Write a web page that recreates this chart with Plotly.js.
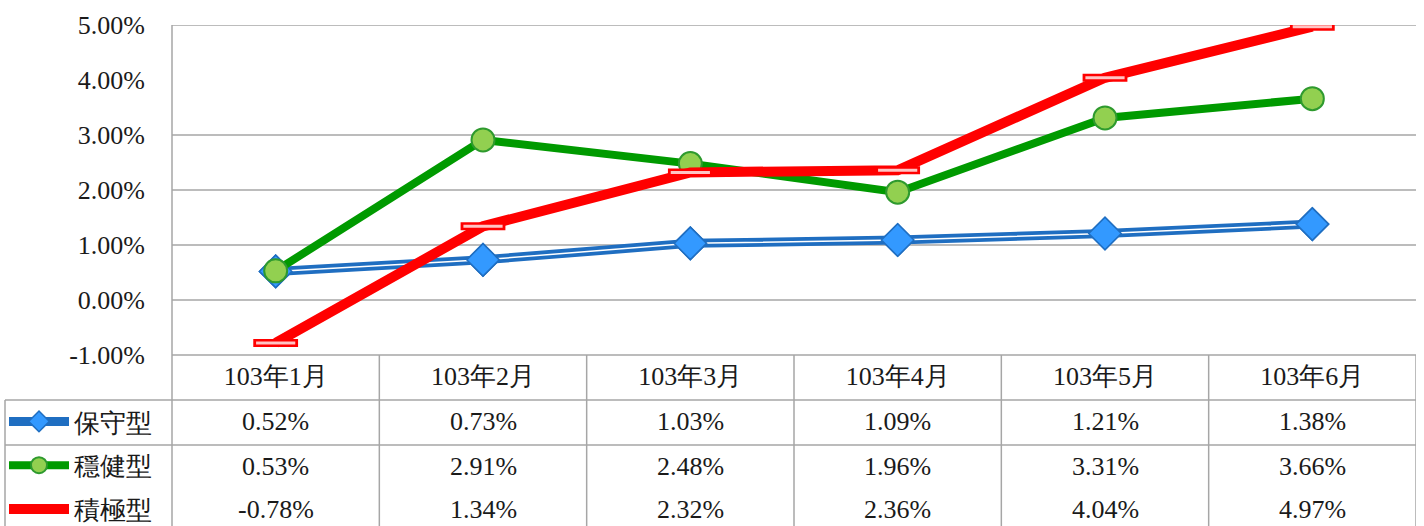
<!DOCTYPE html>
<html><head><meta charset="utf-8">
<script src="https://cdn.plot.ly/plotly-3.0.1.min.js"></script>
<style>html,body{margin:0;padding:0;background:#fff}</style>
</head><body>
<div id="chart" style="width:1424px;height:526px"></div>
<script>
// ---- data ----
const months = ['103年1月','103年2月','103年3月','103年4月','103年5月','103年6月'];
const conservative = [0.52, 0.73, 1.03, 1.09, 1.21, 1.38];   // 保守型
const balanced     = [0.53, 2.91, 2.48, 1.96, 3.31, 3.66];   // 穩健型
const aggressive   = [-0.78, 1.34, 2.32, 2.36, 4.04, 4.97];  // 積極型
const seriesNames  = ['保守型','穩健型','積極型'];
const yTickVals    = [-1, 0, 1, 2, 3, 4, 5];
const gridVals     = [5, 3, 2, 1, 0];

// ---- geometry helpers ----
const W = 1424, H = 526;
const L = 172, R = 1416, T = 25, B = 355;
const plotW = R - L, plotH = B - T;
const py = p => (B - p) / plotH;     // pixel y -> paper y
const px = p => (p - L) / plotW;     // pixel x -> paper x

const FONT = 'Liberation Serif, DejaVu Serif, serif';
const TXT = '#1a1a1a';
const GRID = '#a6a6a6';
const FS = 26;

const fmt = v => v.toFixed(2) + '%';

const traces = [
  {x: months, y: conservative, name: seriesNames[0], legendgroup: 'g1', type: 'scatter', mode: 'lines+markers',
   line: {color: '#1f6ec1', width: 9},
   marker: {symbol: 'diamond', size: 25, color: '#3399ff', line: {color: '#1f6ec1', width: 1.5}}},
  {x: months, y: conservative, legendgroup: 'g1', type: 'scatter', mode: 'lines', showlegend: false, hoverinfo: 'skip',
   line: {color: '#ffffff', width: 1.5}},
  {x: months, y: conservative, legendgroup: 'g1', type: 'scatter', mode: 'markers', showlegend: false, hoverinfo: 'skip',
   marker: {symbol: 'diamond', size: 25, color: '#3399ff', line: {color: '#1f6ec1', width: 1.5}}},
  {x: months, y: balanced, name: seriesNames[1], legendgroup: 'g2', type: 'scatter', mode: 'lines+markers',
   line: {color: '#009a00', width: 8},
   marker: {symbol: 'circle', size: 23, color: '#92d050', line: {color: '#2e9a2e', width: 2}}},
  {x: months, y: aggressive, name: seriesNames[2], legendgroup: 'g3', type: 'scatter', mode: 'lines+markers',
   line: {color: '#ff0000', width: 10},
   marker: {symbol: 'line-ew', size: 32, color: '#ff0000', line: {color: '#ff0000', width: 8}}},
  {x: months, y: aggressive, legendgroup: 'g3', type: 'scatter', mode: 'markers', showlegend: false, hoverinfo: 'skip',
   marker: {symbol: 'line-ew', size: 28, color: '#ffc4c4', line: {color: '#ffc4c4', width: 3}}}
];

// ---- table / grid lines ----
const shapes = [];
const ln = {color: GRID, width: 1.5};
gridVals.forEach(v => shapes.push({type: 'line', xref: 'paper', yref: 'y', x0: 0, x1: 1, y0: v, y1: v, line: ln, layer: 'below'}));
// left axis line through table
shapes.push({type: 'line', xref: 'paper', yref: 'paper', x0: 0, x1: 0, y0: 1, y1: py(H + 5), line: ln});
// table top (bottom of plot)
shapes.push({type: 'line', xref: 'paper', yref: 'paper', x0: 0, x1: 1, y0: 0, y1: 0, line: ln});
// column separators
for (let i = 0; i < months.length; i++) {
  shapes.push({type: 'line', xref: 'x', yref: 'paper', x0: i + 0.5, x1: i + 0.5, y0: 0, y1: py(H + 5), line: ln});
}
// row lines spanning label column
[400, 445].forEach(p => shapes.push({type: 'line', xref: 'paper', yref: 'paper', x0: px(5), x1: 1, y0: py(p), y1: py(p), line: ln}));
// left border of label column
shapes.push({type: 'line', xref: 'paper', yref: 'paper', x0: px(5), x1: px(5), y0: py(400), y1: py(H + 5), line: ln});

// ---- table values ----
const annotations = [];
const rows = [conservative, balanced, aggressive];
const rowY = [421, 466, 509];
rows.forEach((arr, r) => arr.forEach((v, i) => annotations.push({
  x: months[i], xref: 'x', y: py(rowY[r]), yref: 'paper', text: fmt(v), showarrow: false,
  xanchor: 'center', yanchor: 'middle', font: {family: FONT, size: FS, color: TXT}
})));

const layout = {
  width: W, height: H,
  margin: {l: L, r: W - R, t: T, b: H - B, pad: 0, autoexpand: false},
  paper_bgcolor: '#ffffff', plot_bgcolor: '#ffffff',
  font: {family: FONT, size: FS, color: TXT},
  showlegend: true,
  legend: {x: px(4), y: py(398), xanchor: 'left', yanchor: 'top', bgcolor: 'rgba(0,0,0,0)',
           font: {family: FONT, size: FS, color: TXT}, tracegroupgap: 7, itemwidth: 60},
  xaxis: {type: 'category', range: [-0.5, months.length - 0.5], showgrid: false, zeroline: false,
          showline: false, ticks: '', tickfont: {family: FONT, size: FS, color: TXT}, ticklabelstandoff: 3,
          fixedrange: true, automargin: false},
  yaxis: {range: [-1, 5], tickvals: yTickVals, ticktext: yTickVals.map(fmt), showgrid: false, zeroline: false,
          showline: false, ticks: '', tickfont: {family: FONT, size: FS, color: TXT}, ticklabelstandoff: 26,
          fixedrange: true, automargin: false},
  shapes: shapes,
  annotations: annotations
};

Plotly.newPlot('chart', traces, layout, {displayModeBar: false, staticPlot: true});
</script>
</body></html>
